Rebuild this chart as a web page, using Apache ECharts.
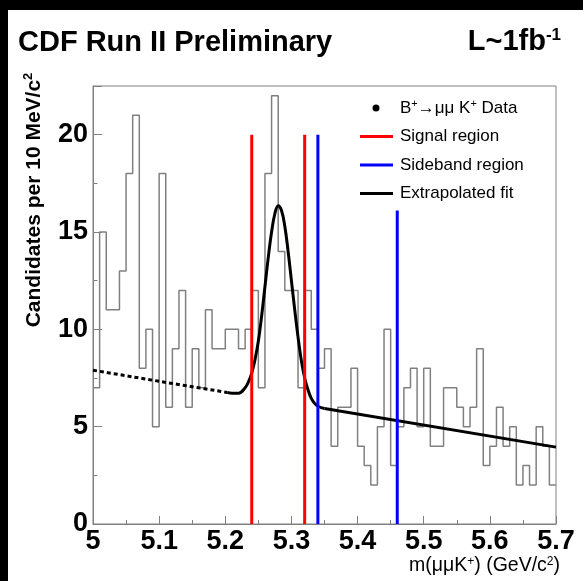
<!DOCTYPE html>
<html><head><meta charset="utf-8">
<script src="https://cdn.jsdelivr.net/npm/echarts@6/dist/echarts.min.js"></script>
<style>
html,body{margin:0;padding:0;background:#000;width:583px;height:581px;overflow:hidden}
#c{position:absolute;left:8px;top:10px;width:575px;height:571px;background:#fff}
</style>
</head><body><div id="c"></div>
<script>
// Histogram: candidates per 10 MeV bin, from 5.00 to 5.70 GeV
const binStart = 5.0;
const binWidth = 0.01;
const counts = [
  7, 15, 11, 11, 13, 18, 21, 8, 10, 5,
  18, 6, 9, 12, 6, 9, 7, 11, 9, 9,
  10, 10, 9, 10, 12, 7, 18, 22, 14, 12,
  12, 7, 12, 10, 8, 9, 4, 6, 6, 8,
  4, 3, 2, 5, 10, 3, 5, 7, 8, 5,
  8, 4, 4, 7, 7, 6, 5, 6, 9, 3,
  4, 6, 4, 5, 2, 3, 2, 5, 4, 2
];
// Signal / sideband region boundaries
const signalX = [5.24, 5.32];
const signalTop = [20, 20];
const sidebandX = [5.34, 5.46];
const sidebandTop = [20, 16.1];
// Extrapolated fit (dotted part, left of signal region)
const bkgX = [5.0, 5.1, 5.203];
const bkgY = [7.9, 7.33, 6.76];
// Fit (solid part around the peak)
const fitX = [5.203, 5.21, 5.22, 5.23, 5.235, 5.24, 5.245, 5.25, 5.255, 5.26, 5.265, 5.27, 5.275, 5.28,
  5.285, 5.29, 5.295, 5.30, 5.305, 5.31, 5.315, 5.32, 5.325, 5.33, 5.335, 5.34, 5.35];
const fitY = [6.76, 6.72, 6.72, 7.0, 7.3, 7.75, 8.45, 9.4, 10.7, 12.2, 13.7, 15.0, 15.95, 16.35,
  16.1, 15.3, 14.0, 12.5, 11.0, 9.6, 8.4, 7.5, 6.9, 6.45, 6.2, 6.05, 5.93];
// Fit (solid straight tail)
const tailX = [5.35, 5.70];
const tailY = [5.93, 3.95];
// Axis ticks
const xMin = 5.0, xMax = 5.7, xStep = 0.1;
const yMin = 0, yMax = 22.5, yStep = 5;

const histData = counts.map((c, i) => [+(binStart + i * binWidth).toFixed(2), c]);
histData.push([+(binStart + counts.length * binWidth).toFixed(2), counts[counts.length - 1]]);

const FONT = 'Liberation Sans, Arial, Helvetica, sans-serif';
const gray = '#808080';

function vline(x, top, color) {
  return { type: 'line', data: [[x, 0], [x, top]], symbol: 'none', silent: true,
    lineStyle: { color: color, width: 3 }, z: 5, animation: false };
}

const chart = echarts.init(document.getElementById('c'), null, { renderer: 'canvas' });
chart.setOption({
  animation: false,
  backgroundColor: '#fff',
  grid: { left: 85, top: 76, right: 27, bottom: 57, show: true, borderColor: gray, borderWidth: 1, backgroundColor: 'transparent' },
  xAxis: {
    type: 'value', min: xMin, max: xMax, interval: xStep,
    axisLine: { show: true, lineStyle: { color: gray, width: 1 } },
    axisTick: { show: true, inside: true, length: 8, lineStyle: { color: gray } },
    minorTick: { show: true, splitNumber: 2, length: 4, lineStyle: { color: gray } },
    splitLine: { show: false },
    axisLabel: { color: '#000', fontFamily: FONT, fontWeight: 'bold', fontSize: 27, margin: 4,
      formatter: v => String(+v.toFixed(2)) }
  },
  yAxis: {
    type: 'value', min: yMin, max: yMax, interval: yStep,
    axisLine: { show: true, lineStyle: { color: gray, width: 1 } },
    axisTick: { show: true, inside: true, length: 9, lineStyle: { color: gray } },
    minorTick: { show: true, splitNumber: 2, length: 4.5, lineStyle: { color: gray } },
    splitLine: { show: false },
    axisLabel: { color: '#000', fontFamily: FONT, fontWeight: 'bold', fontSize: 27, margin: 5, showMaxLabel: false,
      formatter: v => (v > 20.1 ? '' : String(v)) }
  },
  series: [
    { type: 'line', name: 'Data', data: histData, step: 'end', symbol: 'none', silent: true,
      lineStyle: { color: gray, width: 1.5 }, z: 2 },
    { type: 'line', name: 'Fit dotted', data: bkgX.map((x, i) => [x, bkgY[i]]), symbol: 'none', silent: true,
      lineStyle: { color: '#000', width: 3, type: [4, 3] }, z: 3 },
    { type: 'line', name: 'Extrapolated fit', data: fitX.map((x, i) => [x, fitY[i]]), symbol: 'none', silent: true,
      smooth: 0.4, lineStyle: { color: '#000', width: 3, join: 'round' }, z: 3 },
    { type: 'line', name: 'Fit tail', data: tailX.map((x, i) => [x, tailY[i]]), symbol: 'none', silent: true,
      lineStyle: { color: '#000', width: 3 }, z: 3 },
    vline(signalX[0], signalTop[0], '#ff0000'),
    vline(signalX[1], signalTop[1], '#ff0000'),
    vline(sidebandX[0], sidebandTop[0], '#0000ff'),
    vline(sidebandX[1], sidebandTop[1], '#0000ff')
  ],
  graphic: [
    { type: 'text', left: 10, top: 18, style: { text: 'CDF Run II Preliminary', font: 'bold 29px ' + FONT, fill: '#000' } },
    { type: 'text', x: 553, y: 32, style: {
        text: 'L~1fb{s|-1}', align: 'right', verticalAlign: 'middle', font: 'bold 29px ' + FONT, fill: '#000',
        rich: { s: { font: 'bold 17px ' + FONT, fill: '#000', verticalAlign: 'top', padding: [0, 0, 14, 0] } } } },
    { type: 'text', x: 26, y: 190, rotation: Math.PI / 2, style: {
        text: 'Candidates per 10 MeV/c{s|2}', align: 'center', verticalAlign: 'middle', font: 'bold 21px ' + FONT, fill: '#000',
        rich: { s: { font: 'bold 13px ' + FONT, fill: '#000', padding: [0, 0, 12, 0] } } } },
    { type: 'text', x: 552, y: 556, style: {
        text: 'm(\u03bc\u03bcK{s|+}) (GeV/c{s|2})', align: 'right', verticalAlign: 'middle', font: '19.5px ' + FONT, fill: '#000',
        rich: { s: { font: '12px ' + FONT, fill: '#000', padding: [0, 0, 9, 0] } } } },
    // legend
    { type: 'circle', shape: { cx: 368, cy: 98, r: 3.5 }, style: { fill: '#000' } },
    { type: 'text', x: 392, y: 98, style: { text: 'B{s|+}\u2192\u03bc\u03bc K{s|+} Data', verticalAlign: 'middle', font: '17px ' + FONT, fill: '#000',
        rich: { s: { font: '11px ' + FONT, fill: '#000', padding: [0, 0, 9, 0] } } } },
    { type: 'line', shape: { x1: 352, y1: 126.5, x2: 385, y2: 126.5 }, style: { stroke: '#ff0000', lineWidth: 3 } },
    { type: 'text', x: 392, y: 126.5, style: { text: 'Signal region', verticalAlign: 'middle', font: '17px ' + FONT, fill: '#000' } },
    { type: 'line', shape: { x1: 352, y1: 155, x2: 385, y2: 155 }, style: { stroke: '#0000ff', lineWidth: 3 } },
    { type: 'text', x: 392, y: 155, style: { text: 'Sideband region', verticalAlign: 'middle', font: '17px ' + FONT, fill: '#000' } },
    { type: 'line', shape: { x1: 352, y1: 183.5, x2: 385, y2: 183.5 }, style: { stroke: '#000', lineWidth: 3 } },
    { type: 'text', x: 392, y: 183.5, style: { text: 'Extrapolated fit', verticalAlign: 'middle', font: '17px ' + FONT, fill: '#000' } }
  ]
});
</script>
</body></html>
